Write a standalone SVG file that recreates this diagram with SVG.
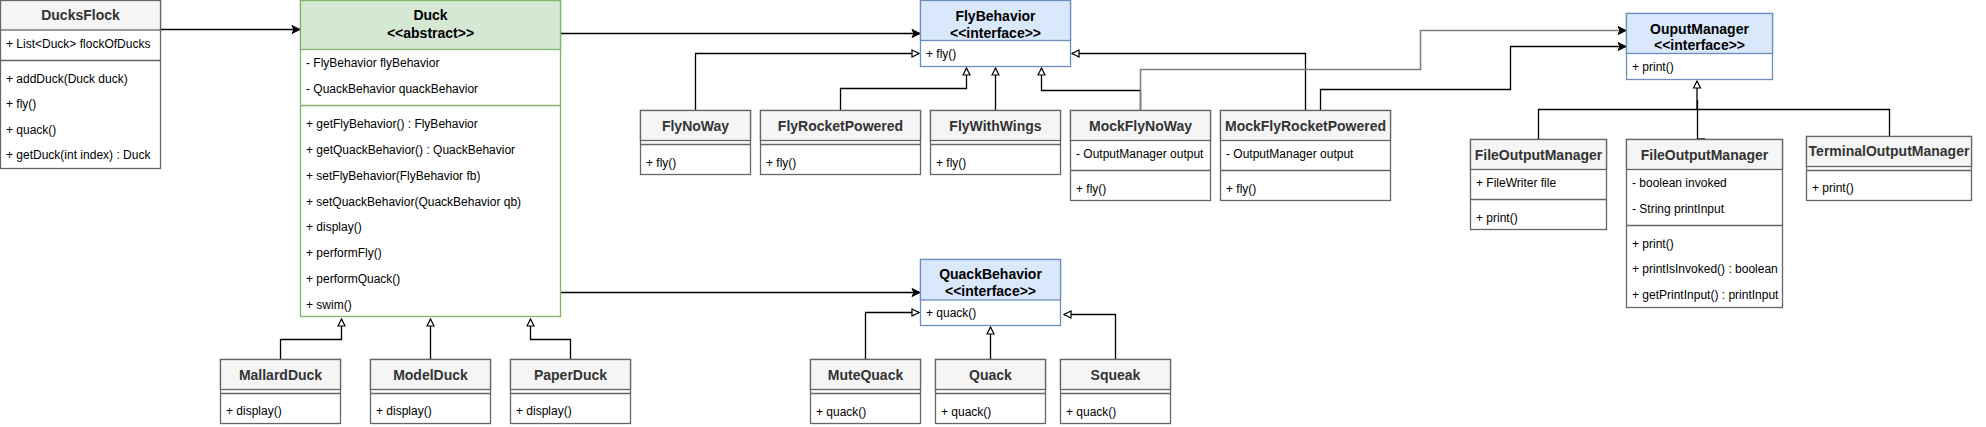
<svg xmlns="http://www.w3.org/2000/svg" width="1986" height="427" viewBox="0 0 1986 427">
<style>
text{font-family:"Liberation Sans",Arial,sans-serif;font-size:12px;fill:#000}
.t{font-weight:bold;font-size:14px;fill:#333;text-anchor:middle}
.ti{font-weight:bold;font-size:14px;fill:#000;text-anchor:middle}
.b{fill:#fff;stroke:#666;stroke-width:1.3}
.h{fill:#f5f5f5;stroke:#666;stroke-width:1.3}
.gb{fill:#fff;stroke:#82b366;stroke-width:1.3}
.gh{fill:#d5e8d4;stroke:#82b366;stroke-width:1.3}
.ib{fill:#fff;stroke:#6c8ebf;stroke-width:1.3}
.ih{fill:#dae8fc;stroke:#6c8ebf;stroke-width:1.3}
.s{stroke:#666;stroke-width:1.3}
.sg{stroke:#82b366;stroke-width:1.3}
.si{stroke:#6c8ebf;stroke-width:1.3}
.c{fill:none;stroke:#000;stroke-width:1.3}
.gen{marker-end:url(#tri)}
.ass{marker-end:url(#arr)}
</style>
<defs>
<marker id="tri" markerUnits="userSpaceOnUse" markerWidth="12" markerHeight="12" refX="7" refY="3.5" orient="auto" overflow="visible">
<path d="M0,0 L7,3.5 L0,7 Z" fill="#fff" stroke="#000" stroke-width="1.2"/>
</marker>
<marker id="arr" markerUnits="userSpaceOnUse" markerWidth="12" markerHeight="12" refX="8" refY="4" orient="auto" overflow="visible">
<path d="M0,0 L8,4 L0,8 L2,4 Z" fill="#000" stroke="#000" stroke-width="1"/>
</marker>
</defs>

<g id="connectors">
<path class="c ass" d="M160.5 29.5 H300"/>
<path class="c ass" d="M560.5 33.5 H920"/>
<path class="c ass" d="M560.5 292.5 H920"/>
<path class="c gen" d="M695.5 110 V53.5 H919"/>
<path class="c gen" d="M840.5 110 V88.5 H966.5 V68"/>
<path class="c gen" d="M995.5 110 V68"/>
<path class="c gen" d="M1140.5 110 V90.5 H1041.5 V68"/>
<path class="c gen" d="M1305.5 110 V53.5 H1072"/>
<path class="c ass" d="M1140.5 110 V69.5 H1420.5 V30.5 H1626" style="stroke:#808080;stroke-width:1.6"/>
<path class="c ass" d="M1320.5 110 V89.5 H1510.5 V46.5 H1626"/>
<path class="c gen" d="M1538.5 139 V109.5 H1697 V81"/>
<path class="c" d="M1705 139 H1697.5 V100"/>
<path class="c" d="M1889.5 136 V109.5 H1697"/>
<path class="c gen" d="M280.5 359 V339.5 H341.5 V319"/>
<path class="c gen" d="M430.5 359 V319"/>
<path class="c gen" d="M570.5 359 V339.5 H530.5 V319"/>
<path class="c gen" d="M865.5 359 V312.5 H919"/>
<path class="c gen" d="M990.5 359 V327"/>
<path class="c gen" d="M1115.5 359 V314.5 H1064"/>
</g>

<g id="DucksFlock">
<rect class="b" x="0.5" y="0.5" width="160" height="168"/>
<rect class="h" x="0.5" y="0.5" width="160" height="29.5"/>
<text class="t" x="80.5" y="20">DucksFlock</text>
<text x="6" y="48">+ List&lt;Duck&gt; flockOfDucks</text>
<line class="s" x1="0.5" y1="60.5" x2="160.5" y2="60.5"/>
<text x="6" y="82.5">+ addDuck(Duck duck)</text>
<text x="6" y="108">+ fly()</text>
<text x="6" y="133.5">+ quack()</text>
<text x="6" y="159">+ getDuck(int index) : Duck</text>
</g>

<g id="Duck">
<rect class="gb" x="300.5" y="0.5" width="260" height="316"/>
<rect class="gh" x="300.5" y="0.5" width="260" height="49"/>
<text class="ti" x="430.5" y="20">Duck</text>
<text class="ti" x="430.5" y="37.5">&lt;&lt;abstract&gt;&gt;</text>
<text x="306" y="66.5">- FlyBehavior flyBehavior</text>
<text x="306" y="93">- QuackBehavior quackBehavior</text>
<line class="sg" x1="300.5" y1="105.5" x2="560.5" y2="105.5"/>
<text x="306" y="127.5">+ getFlyBehavior() : FlyBehavior</text>
<text x="306" y="153.5">+ getQuackBehavior() : QuackBehavior</text>
<text x="306" y="179.5">+ setFlyBehavior(FlyBehavior fb)</text>
<text x="306" y="205.5">+ setQuackBehavior(QuackBehavior qb)</text>
<text x="306" y="231">+ display()</text>
<text x="306" y="257">+ performFly()</text>
<text x="306" y="283">+ performQuack()</text>
<text x="306" y="309">+ swim()</text>
</g>

<g id="FlyBehavior">
<rect class="ib" x="920.5" y="0.5" width="150" height="66"/>
<rect class="ih" x="920.5" y="0.5" width="150" height="40"/>
<text class="ti" x="995.5" y="20.5">FlyBehavior</text>
<text class="ti" x="995.5" y="37.5">&lt;&lt;interface&gt;&gt;</text>
<text x="926" y="57.5">+ fly()</text>
</g>

<g id="QuackBehavior">
<rect class="ib" x="920.5" y="259.5" width="140" height="66"/>
<rect class="ih" x="920.5" y="259.5" width="140" height="40.5"/>
<text class="ti" x="990.5" y="279">QuackBehavior</text>
<text class="ti" x="990.5" y="296">&lt;&lt;interface&gt;&gt;</text>
<text x="926" y="317">+ quack()</text>
</g>

<g id="OuputManager">
<rect class="ib" x="1626.5" y="13.5" width="146" height="66"/>
<rect class="ih" x="1626.5" y="13.5" width="146" height="40"/>
<text class="ti" x="1699.5" y="33.5">OuputManager</text>
<text class="ti" x="1699.5" y="50">&lt;&lt;interface&gt;&gt;</text>
<text x="1632" y="71">+ print()</text>
</g>

<g id="FlyNoWay">
<rect class="b" x="640.5" y="110.5" width="110" height="64"/>
<rect class="h" x="640.5" y="110.5" width="110" height="30"/>
<line class="s" x1="640.5" y1="144.5" x2="750.5" y2="144.5"/>
<text class="t" x="695.5" y="130.5">FlyNoWay</text>
<text x="646" y="166.5">+ fly()</text>
</g>

<g id="FlyRocketPowered">
<rect class="b" x="760.5" y="110.5" width="160" height="64"/>
<rect class="h" x="760.5" y="110.5" width="160" height="30"/>
<line class="s" x1="760.5" y1="144.5" x2="920.5" y2="144.5"/>
<text class="t" x="840.5" y="130.5">FlyRocketPowered</text>
<text x="766" y="166.5">+ fly()</text>
</g>

<g id="FlyWithWings">
<rect class="b" x="930.5" y="110.5" width="130" height="64"/>
<rect class="h" x="930.5" y="110.5" width="130" height="30"/>
<line class="s" x1="930.5" y1="144.5" x2="1060.5" y2="144.5"/>
<text class="t" x="995.5" y="130.5">FlyWithWings</text>
<text x="936" y="166.5">+ fly()</text>
</g>

<g id="MockFlyNoWay">
<rect class="b" x="1070.5" y="110.5" width="140" height="90"/>
<rect class="h" x="1070.5" y="110.5" width="140" height="30"/>
<text class="t" x="1140.5" y="130.5">MockFlyNoWay</text>
<text x="1076" y="157.5">- OutputManager output</text>
<line class="s" x1="1070.5" y1="170.5" x2="1210.5" y2="170.5"/>
<text x="1076" y="192.5">+ fly()</text>
</g>

<g id="MockFlyRocketPowered">
<rect class="b" x="1220.5" y="110.5" width="170" height="90"/>
<rect class="h" x="1220.5" y="110.5" width="170" height="30"/>
<text class="t" x="1305.5" y="130.5">MockFlyRocketPowered</text>
<text x="1226" y="157.5">- OutputManager output</text>
<line class="s" x1="1220.5" y1="170.5" x2="1390.5" y2="170.5"/>
<text x="1226" y="192.5">+ fly()</text>
</g>

<g id="FileOutputManager1">
<rect class="b" x="1470.5" y="139.5" width="136" height="90"/>
<rect class="h" x="1470.5" y="139.5" width="136" height="30"/>
<text class="t" x="1538.5" y="159.5">FileOutputManager</text>
<text x="1476" y="187">+ FileWriter file</text>
<line class="s" x1="1470.5" y1="199.5" x2="1606.5" y2="199.5"/>
<text x="1476" y="221.5">+ print()</text>
</g>

<g id="FileOutputManager2">
<rect class="b" x="1626.5" y="139.5" width="156" height="168"/>
<rect class="h" x="1626.5" y="139.5" width="156" height="30"/>
<text class="t" x="1704.5" y="159.5">FileOutputManager</text>
<text x="1632" y="187">- boolean invoked</text>
<text x="1632" y="213">- String printInput</text>
<line class="s" x1="1626.5" y1="225.5" x2="1782.5" y2="225.5"/>
<text x="1632" y="247.5">+ print()</text>
<text x="1632" y="273">+ printIsInvoked() : boolean</text>
<text x="1632" y="299">+ getPrintInput() : printInput</text>
</g>

<g id="TerminalOutputManager">
<rect class="b" x="1806.5" y="136.5" width="165" height="64"/>
<rect class="h" x="1806.5" y="136.5" width="165" height="30"/>
<line class="s" x1="1806.5" y1="170.5" x2="1971.5" y2="170.5"/>
<text class="t" x="1889" y="156">TerminalOutputManager</text>
<text x="1812" y="192">+ print()</text>
</g>

<g id="MallardDuck">
<rect class="b" x="220.5" y="359.5" width="120" height="64"/>
<rect class="h" x="220.5" y="359.5" width="120" height="30"/>
<line class="s" x1="220.5" y1="393.5" x2="340.5" y2="393.5"/>
<text class="t" x="280.5" y="379.5">MallardDuck</text>
<text x="226" y="414.5">+ display()</text>
</g>

<g id="ModelDuck">
<rect class="b" x="370.5" y="359.5" width="120" height="64"/>
<rect class="h" x="370.5" y="359.5" width="120" height="30"/>
<line class="s" x1="370.5" y1="393.5" x2="490.5" y2="393.5"/>
<text class="t" x="430.5" y="379.5">ModelDuck</text>
<text x="376" y="414.5">+ display()</text>
</g>

<g id="PaperDuck">
<rect class="b" x="510.5" y="359.5" width="120" height="64"/>
<rect class="h" x="510.5" y="359.5" width="120" height="30"/>
<line class="s" x1="510.5" y1="393.5" x2="630.5" y2="393.5"/>
<text class="t" x="570.5" y="379.5">PaperDuck</text>
<text x="516" y="414.5">+ display()</text>
</g>

<g id="MuteQuack">
<rect class="b" x="810.5" y="359.5" width="110" height="64"/>
<rect class="h" x="810.5" y="359.5" width="110" height="30"/>
<line class="s" x1="810.5" y1="393.5" x2="920.5" y2="393.5"/>
<text class="t" x="865.5" y="379.5">MuteQuack</text>
<text x="816" y="416">+ quack()</text>
</g>

<g id="Quack">
<rect class="b" x="935.5" y="359.5" width="110" height="64"/>
<rect class="h" x="935.5" y="359.5" width="110" height="30"/>
<line class="s" x1="935.5" y1="393.5" x2="1045.5" y2="393.5"/>
<text class="t" x="990.5" y="379.5">Quack</text>
<text x="941" y="416">+ quack()</text>
</g>

<g id="Squeak">
<rect class="b" x="1060.5" y="359.5" width="110" height="64"/>
<rect class="h" x="1060.5" y="359.5" width="110" height="30"/>
<line class="s" x1="1060.5" y1="393.5" x2="1170.5" y2="393.5"/>
<text class="t" x="1115.5" y="379.5">Squeak</text>
<text x="1066" y="416">+ quack()</text>
</g>
</svg>
